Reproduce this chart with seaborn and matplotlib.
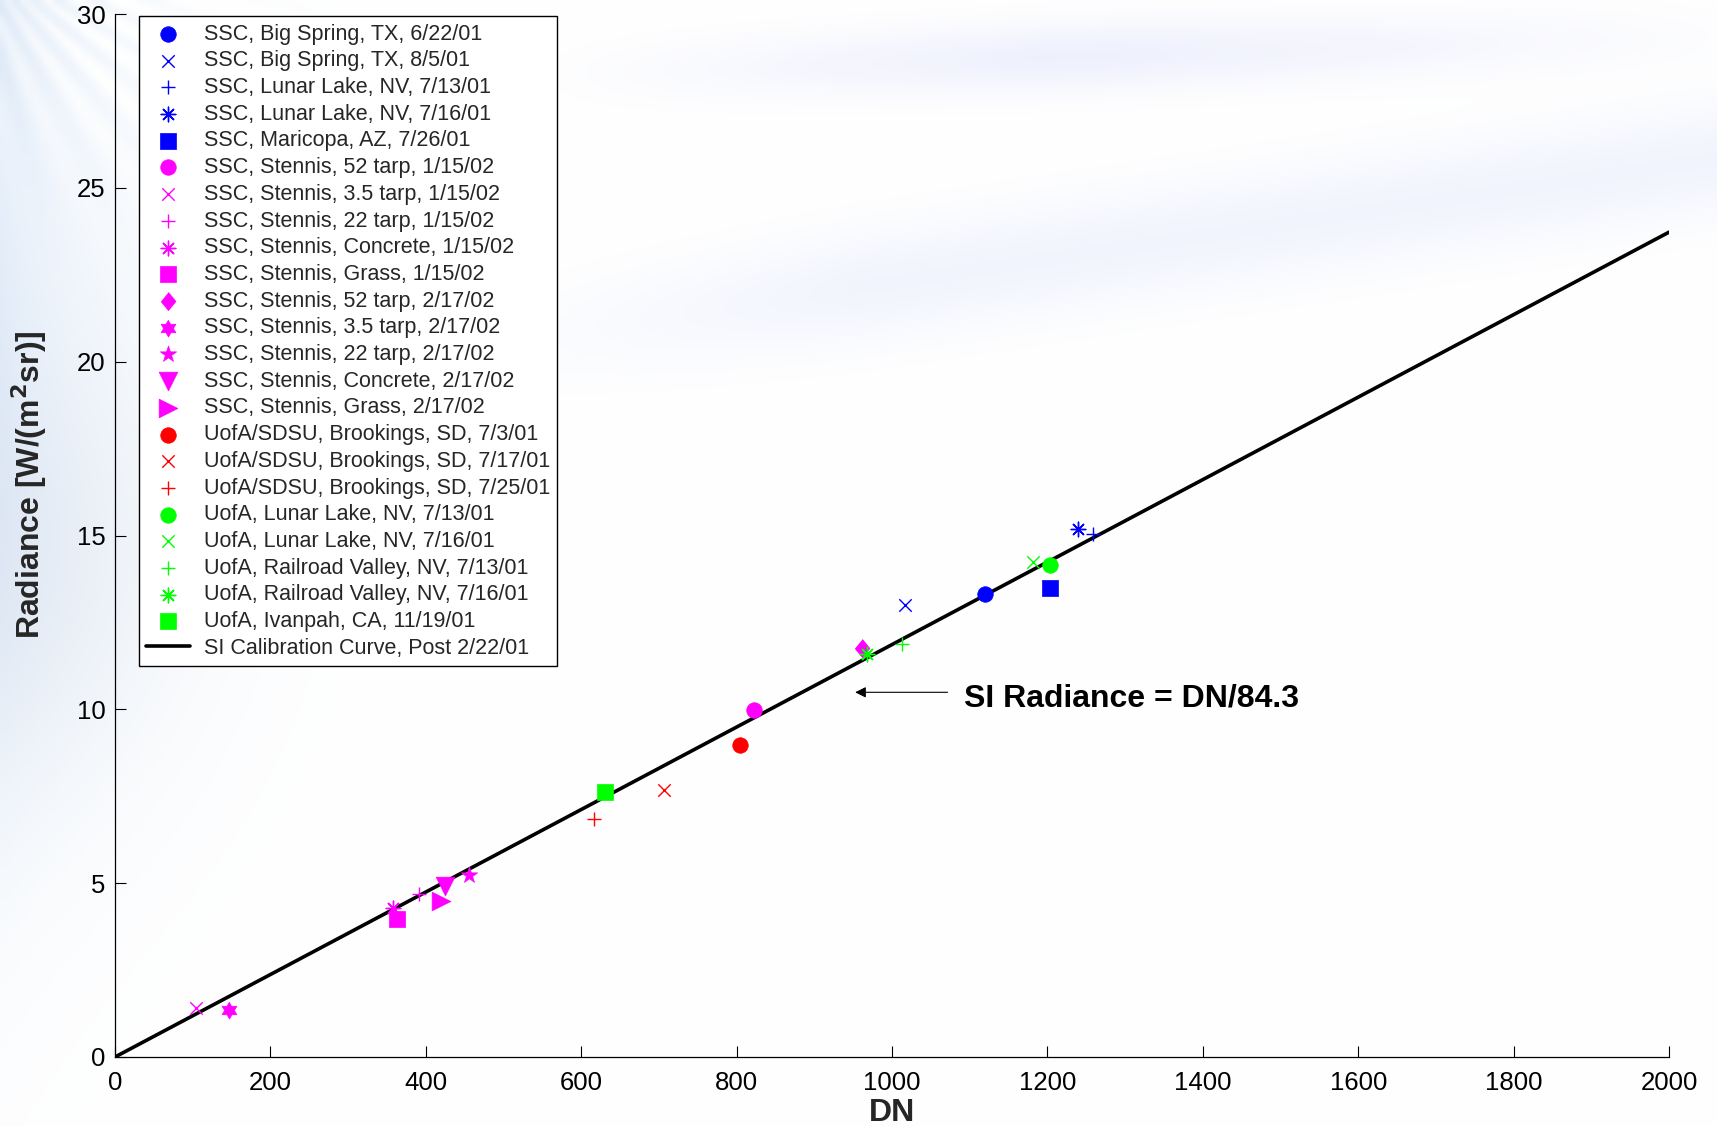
import numpy as np
import pandas as pd
import matplotlib
matplotlib.use("Agg")
import matplotlib.pyplot as plt
import seaborn as sns

# ---- measurement data -------------------------------------------------------
labels = [
    "SSC, Big Spring, TX, 6/22/01",
    "SSC, Big Spring, TX, 8/5/01",
    "SSC, Lunar Lake, NV, 7/13/01",
    "SSC, Lunar Lake, NV, 7/16/01",
    "SSC, Maricopa, AZ, 7/26/01",
    "SSC, Stennis, 52 tarp, 1/15/02",
    "SSC, Stennis, 3.5 tarp, 1/15/02",
    "SSC, Stennis, 22 tarp, 1/15/02",
    "SSC, Stennis, Concrete, 1/15/02",
    "SSC, Stennis, Grass, 1/15/02",
    "SSC, Stennis, 52 tarp, 2/17/02",
    "SSC, Stennis, 3.5 tarp, 2/17/02",
    "SSC, Stennis, 22 tarp, 2/17/02",
    "SSC, Stennis, Concrete, 2/17/02",
    "SSC, Stennis, Grass, 2/17/02",
    "UofA/SDSU, Brookings, SD, 7/3/01",
    "UofA/SDSU, Brookings, SD, 7/17/01",
    "UofA/SDSU, Brookings, SD, 7/25/01",
    "UofA, Lunar Lake, NV, 7/13/01",
    "UofA, Lunar Lake, NV, 7/16/01",
    "UofA, Railroad Valley, NV, 7/13/01",
    "UofA, Railroad Valley, NV, 7/16/01",
    "UofA, Ivanpah, CA, 11/19/01",
]
dn_values = [1120, 1017, 1259, 1239, 1203, 822, 104, 391, 358, 363,
             962, 147, 455, 425, 419, 805, 707, 616, 1203, 1181, 1013, 968, 631]
radiance_values = [13.32, 13.00, 15.03, 15.19, 13.49, 9.99, 1.42, 4.70, 4.30, 3.97,
                   11.76, 1.36, 5.23, 4.92, 4.49, 8.98, 7.68, 6.84, 14.15, 14.25,
                   11.88, 11.60, 7.63]

calib_label = "SI Calibration Curve, Post 2/22/01"
calib_gain = 84.3
calib_dn = [0, 2000]

# ---- marker styles ----------------------------------------------------------
BLUE, MAG, RED, GREEN = "#0000ff", "#ff00ff", "#ff0000", "#00ff00"
ang = np.linspace(0, 2 * np.pi, 13)[:-1] + np.pi / 2
rad = np.where(np.arange(12) % 2 == 0, 1.0, 1 / np.sqrt(3))
HEXAGRAM = list(zip(rad * np.cos(ang), rad * np.sin(ang)))
DIAMOND = [(0, 1), (0.82, 0), (0, -1), (-0.82, 0)]
ASTER = (8, 2, 0)

styles = [
    (BLUE, "o", 125), (BLUE, "x", 80), (BLUE, "+", 110), (BLUE, ASTER, 110),
    (BLUE, "s", 135),
    (MAG, "o", 125), (MAG, "x", 80), (MAG, "+", 110), (MAG, ASTER, 110),
    (MAG, "s", 135), (MAG, DIAMOND, 170), (MAG, HEXAGRAM, 150), (MAG, "*", 150),
    (MAG, "v", 180), (MAG, ">", 180),
    (RED, "o", 125), (RED, "x", 80), (RED, "+", 110),
    (GREEN, "o", 125), (GREEN, "x", 80), (GREEN, "+", 110), (GREEN, ASTER, 110),
    (GREEN, "s", 135),
]
LINE_ART = {"x", "+"}

sns.set_theme(style="white")
plt.rcParams["font.family"] = ["Liberation Sans", "DejaVu Sans"]

fig = plt.figure(figsize=(17.17, 11.26), dpi=100)

# soft decorative backdrop
H, W = 226, 344
yy, xx = np.mgrid[0:H, 0:W]
X = xx / (W - 1)
Y = yy / (H - 1)
img = np.ones((H, W, 3))


def tint(img, t, col):
    t = np.clip(t, 0, 1)[..., None]
    return img * (1 - t) + np.array(col)[None, None, :] * t


left = np.exp(-X / 0.06) * (0.35 * np.exp(-((Y - 0.45) / 0.3) ** 2) + 0.6 * np.exp(-Y / 0.3))
rays = 0.25 * (np.sin(40 * np.arctan2(Y + 0.05, X + 0.02)) * 0.5 + 0.5) * np.exp(-(X ** 2 + Y ** 2) / 0.02)
img = tint(img, left * 0.8 - rays, (0.72, 0.82, 0.94))
band_c = 0.30 - 0.16 * (X - 0.3) / 0.7
band = np.exp(-((Y - band_c) / 0.05) ** 2) * np.clip((X - 0.25) / 0.25, 0, 1) * 0.25
img = tint(img, band, (0.80, 0.84, 0.98))
band2_c = 0.03 + 0.05 * (1 - X)
band2 = np.exp(-((Y - band2_c) / 0.03) ** 2) * np.clip((X - 0.30) / 0.3, 0, 1) * np.clip((1.05 - X) / 0.4, 0, 1) * 0.35
img = tint(img, band2, (0.82, 0.84, 0.98))
lowleft = np.exp(-((X - 0.0) / 0.10) ** 2) * np.exp(-((Y - 0.50) / 0.18) ** 2) * 0.30
img = tint(img, lowleft, (0.80, 0.84, 0.90))
bg = fig.add_axes([0, 0, 1, 1], zorder=-10)
bg.imshow(img, aspect="auto", interpolation="bicubic", extent=(0, 1, 0, 1))
bg.axis("off")

ax = fig.add_axes([115 / 1717, 1 - 1057 / 1126, (1669 - 115) / 1717, (1057 - 14) / 1126])
ax.set_facecolor("none")

df = pd.DataFrame({"DN": dn_values, "Radiance": radiance_values, "Source": labels})

for lab, (col, mk, size) in zip(labels, styles):
    sub = df[df["Source"] == lab]
    line_art = (isinstance(mk, str) and mk in LINE_ART) or mk == ASTER
    sns.scatterplot(
        data=sub, x="DN", y="Radiance", ax=ax, label=lab,
        color=col, marker=mk, s=size,
        edgecolor=col, linewidth=1.0 if line_art else 0.5, zorder=3,
    )

calib = pd.DataFrame({"DN": calib_dn})
calib["Radiance"] = calib["DN"] / calib_gain
sns.lineplot(data=calib, x="DN", y="Radiance", ax=ax, color="black",
             linewidth=2.6, label=calib_label, zorder=2)

ax.set_xlim(0, 2000)
ax.set_ylim(0, 30)
ax.set_xticks(np.arange(0, 2001, 200))
ax.set_yticks(np.arange(0, 31, 5))
for side in ("top", "right"):
    ax.spines[side].set_visible(False)
for side in ("left", "bottom"):
    ax.spines[side].set_color("black")
    ax.spines[side].set_linewidth(0.9)
ax.tick_params(axis="both", direction="in", length=8, width=0.8, colors="black",
               labelsize=18.5, left=True, bottom=True)
ax.tick_params(axis="x", pad=10)
ax.tick_params(axis="y", pad=7)

ax.set_xlabel("DN", fontsize=23, fontweight="bold", labelpad=2)
ax.set_ylabel("Radiance [W/(m$^\\mathbf{2}$sr)]", fontsize=23, fontweight="bold")
ax.yaxis.set_label_coords(-0.0425, 0.549)

ax.annotate("", xy=(949, 10.49), xytext=(1075, 10.49),
            arrowprops=dict(arrowstyle="-|>", color="black", lw=0.8, mutation_scale=16))
ax.text(1093, 10.30, f"SI Radiance = DN/{calib_gain}", fontsize=23, fontweight="bold",
        va="center", ha="left", color="black")

leg = ax.legend(loc="upper left", bbox_to_anchor=(0.0154, 0.998), borderaxespad=0,
                fontsize=15.5, frameon=True, fancybox=False, framealpha=1,
                edgecolor="black", labelspacing=0.265, handletextpad=0.65,
                borderpad=0.35)
leg.get_frame().set_linewidth(1.0)

fig.savefig("out.png", dpi=100)
